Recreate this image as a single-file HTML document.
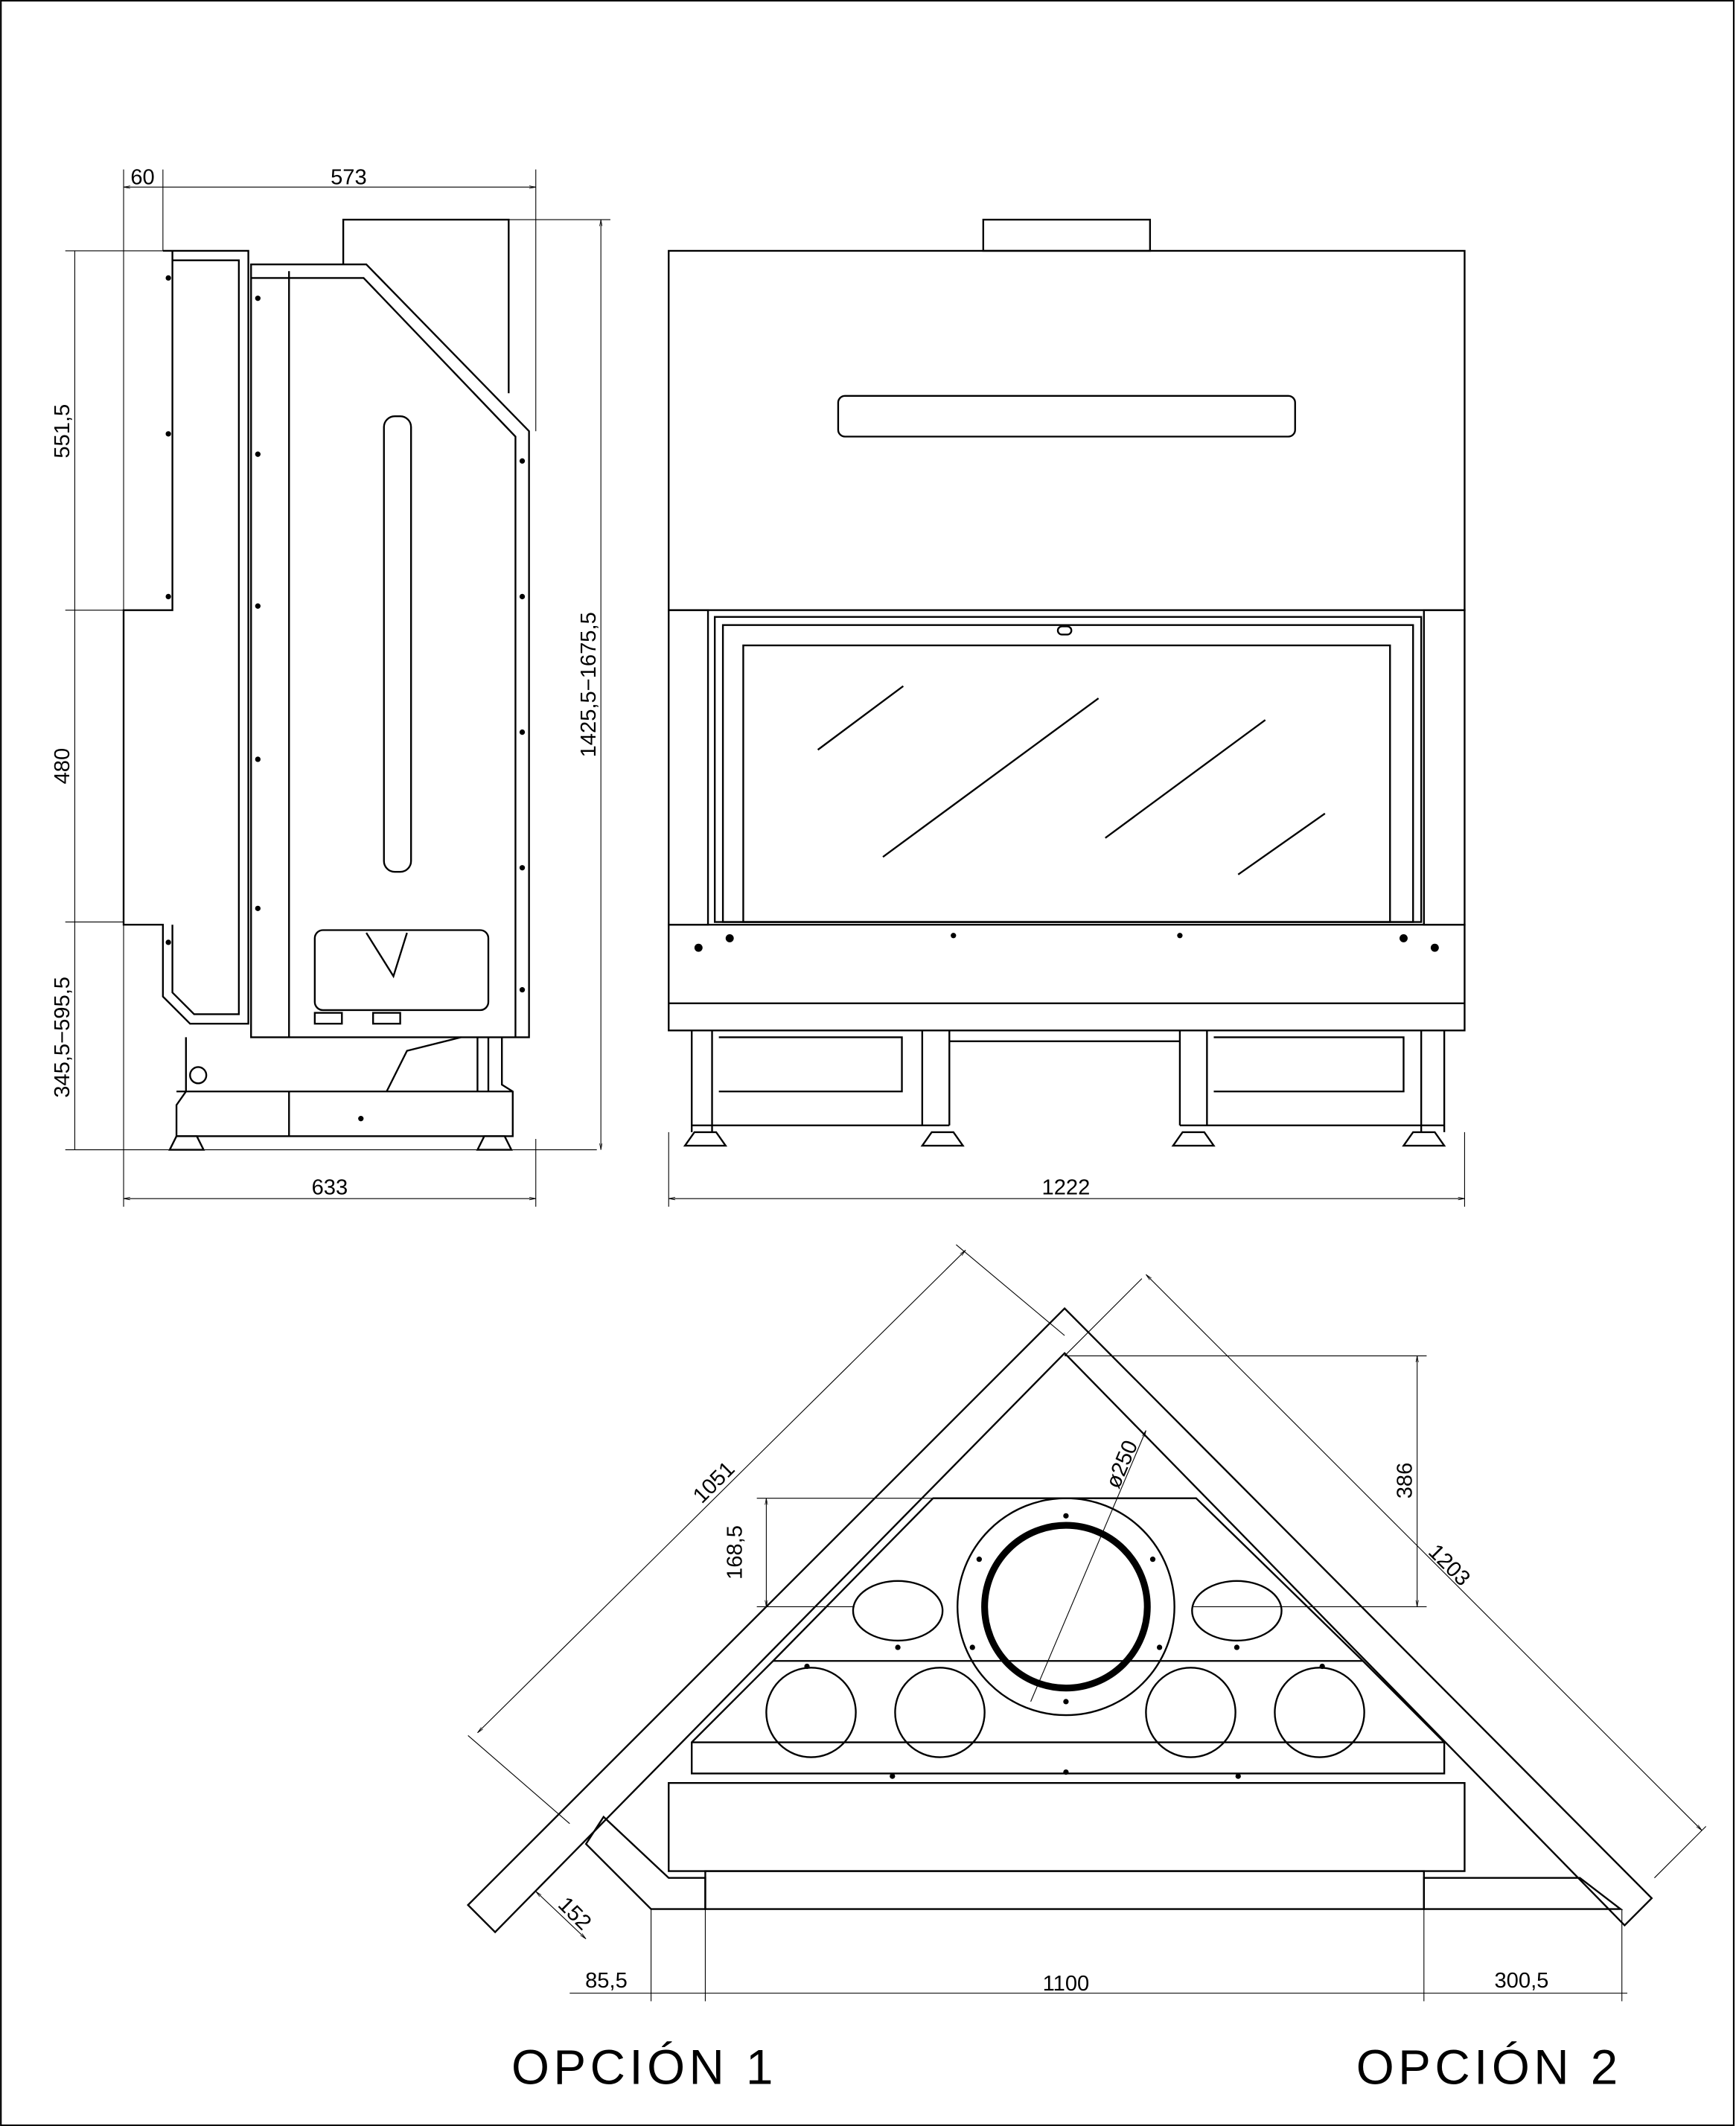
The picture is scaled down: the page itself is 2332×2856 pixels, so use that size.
<!DOCTYPE html>
<html><head><meta charset="utf-8"><style>
html,body{margin:0;padding:0;background:#fff}
svg{display:block}
text{font-family:"Liberation Sans",sans-serif;fill:#000}
</style></head><body>
<svg width="2332" height="2856" viewBox="0 0 1280 1568" xmlns="http://www.w3.org/2000/svg">
<defs>
<marker id="a" viewBox="0 0 10 10" refX="10" refY="5" markerWidth="8" markerHeight="8" orient="auto-start-reverse"><path d="M0,3 L10,5 L0,7" fill="none" stroke="#000" stroke-width="0.8"/></marker>
</defs>
<rect x="0.5" y="0.5" width="1278" height="1567" fill="none" stroke="#000" stroke-width="1.2"/>
<g fill="none" stroke="#000" stroke-width="0.6">
<!-- side view dims -->
<line x1="91" y1="138" x2="395" y2="138" marker-start="url(#a)" marker-end="url(#a)"/>
<line x1="91" y1="125" x2="91" y2="890"/><line x1="120" y1="125" x2="120" y2="185"/><line x1="395" y1="125" x2="395" y2="318"/>
<line x1="55" y1="185" x2="55" y2="848" />
<line x1="48" y1="185" x2="120" y2="185"/><line x1="48" y1="450" x2="91" y2="450"/><line x1="48" y1="680" x2="91" y2="680"/><line x1="48" y1="848" x2="440" y2="848"/>
<line x1="443" y1="162" x2="443" y2="848" marker-start="url(#a)" marker-end="url(#a)"/>
<line x1="375" y1="162" x2="450" y2="162"/>
<line x1="91" y1="884" x2="395" y2="884" marker-start="url(#a)" marker-end="url(#a)"/>
<line x1="395" y1="840" x2="395" y2="890"/>
<!-- front view dims -->
<line x1="493" y1="884" x2="1080" y2="884" marker-start="url(#a)" marker-end="url(#a)"/>
<line x1="493" y1="835" x2="493" y2="890"/><line x1="1080" y1="835" x2="1080" y2="890"/>
<!-- plan dims -->
<line x1="352" y1="1278" x2="712" y2="922" marker-start="url(#a)" marker-end="url(#a)"/>
<line x1="345" y1="1280" x2="420" y2="1345"/><line x1="705" y1="918" x2="785" y2="985"/>
<line x1="845" y1="940" x2="1255" y2="1350" marker-start="url(#a)" marker-end="url(#a)"/>
<line x1="842" y1="943" x2="785" y2="1000"/><line x1="1258" y1="1347" x2="1220" y2="1385"/>
<line x1="785" y1="1000" x2="1052" y2="1000"/><line x1="1045" y1="1000" x2="1045" y2="1185" marker-start="url(#a)" marker-end="url(#a)"/>
<line x1="880" y1="1185" x2="1052" y2="1185"/>
<line x1="558" y1="1105" x2="688" y2="1105"/><line x1="565" y1="1105" x2="565" y2="1185" marker-start="url(#a)" marker-end="url(#a)"/><line x1="558" y1="1185" x2="630" y2="1185"/>
<line x1="760" y1="1255" x2="845" y2="1055" marker-end="url(#a)"/>
<line x1="395" y1="1395" x2="432" y2="1430" marker-start="url(#a)" marker-end="url(#a)"/>
<line x1="420" y1="1470" x2="1200" y2="1470"/>
<line x1="480" y1="1408" x2="480" y2="1476"/><line x1="520" y1="1408" x2="520" y2="1476"/><line x1="1050" y1="1408" x2="1050" y2="1476"/><line x1="1196" y1="1408" x2="1196" y2="1476"/>
</g>
<g font-size="16" text-anchor="middle">
<text x="105" y="136">60</text><text x="257" y="136">573</text>
<text x="243" y="881">633</text><text x="786" y="881">1222</text>
<text transform="translate(51,318) rotate(-90)">551,5</text>
<text transform="translate(51,565) rotate(-90)">480</text>
<text transform="translate(51,765) rotate(-90)">345,5−595,5</text>
<text transform="translate(439,505) rotate(-90)">1425,5−1675,5</text>
<text transform="translate(530,1097) rotate(-45)">1051</text>
<text transform="translate(1065,1158) rotate(45)">1203</text>
<text transform="translate(1041,1092) rotate(-90)">386</text>
<text transform="translate(547,1145) rotate(-90)">168,5</text>
<text transform="translate(832,1082) rotate(-67)">ø250</text>
<text transform="translate(420,1415) rotate(45)">152</text>
<text x="447" y="1466">85,5</text><text x="786" y="1468">1100</text><text x="1122" y="1466">300,5</text>
</g>
<g font-size="36" text-anchor="middle" letter-spacing="3"><text x="475" y="1537">OPCIÓN 1</text><text x="1098" y="1537">OPCIÓN 2</text></g>
<g fill="none" stroke="#000" stroke-width="1.3">
<!-- side view -->
<path d="M120,185 L183,185 L183,755 L140,755 L120,735 L120,682 L91,682 L91,450 L127,450 L127,185"/>
<path d="M127,192 L176,192 L176,748 L143,748 L127,732 L127,682"/>
<path d="M185,195 L270,195 L390,318 L390,765 L185,765 Z"/>
<path d="M185,205 L268,205 L380,322 L380,765"/>
<line x1="213" y1="200" x2="213" y2="765"/>
<path d="M253,195 L253,162 L375,162 L375,290"/>
<rect x="283" y="307" width="20" height="336" rx="8"/>
<rect x="232" y="686" width="128" height="59" rx="6"/>
<path d="M270,688 L290,720 L300,688"/>
<rect x="232" y="747" width="20" height="8"/><rect x="275" y="747" width="20" height="8"/>
<path d="M137,765 L137,805 L130,815 L130,838 L378,838 L378,805 L370,800 L370,765"/>
<line x1="130" y1="805" x2="378" y2="805"/><line x1="213" y1="805" x2="213" y2="838"/>
<path d="M285,805 L300,775 L340,765"/>
<line x1="352" y1="765" x2="352" y2="805"/><line x1="360" y1="765" x2="360" y2="805"/>
<circle cx="146" cy="793" r="6"/>
<path d="M125,848 L150,848 L145,838 L130,838 Z M352,848 L377,848 L372,838 L357,838 Z"/>
<!-- front view -->
<rect x="493" y="185" width="587" height="265"/>
<rect x="725" y="162" width="123" height="23"/>
<rect x="618" y="292" width="337" height="30" rx="5"/>
<rect x="493" y="450" width="29" height="232"/><rect x="1050" y="450" width="30" height="232"/>
<rect x="527" y="455" width="521" height="225"/>
<rect x="548" y="476" width="477" height="204"/>
<rect x="533" y="461" width="509" height="219"/>
<rect x="780" y="462" width="10" height="6" rx="3"/>
<rect x="493" y="682" width="587" height="78"/>
<line x1="493" y1="740" x2="1080" y2="740"/>
<path d="M510,760 L510,835 M525,760 L525,835 M510,830 L700,830 M530,765 L665,765 L665,805 L530,805 M700,760 L700,830 M870,760 L870,830 M870,830 L1065,830 M1048,760 L1048,835 M1065,760 L1065,835 M895,765 L1035,765 L1035,805 L895,805 M700,768 L870,768 M680,760 L680,830 M890,760 L890,830"/>
<path d="M505,845 L535,845 L528,835 L512,835 Z M680,845 L710,845 L703,835 L687,835 Z M865,845 L895,845 L888,835 L872,835 Z M1035,845 L1065,845 L1058,835 L1042,835 Z"/>
<!-- plan view -->
<path d="M345,1405 L785,965 L1218,1400 L1198,1420 L785,998 L365,1425 Z"/>
<path d="M432,1360 L445,1340 L493,1385 L520,1385 L520,1408 L480,1408 Z"/>
<path d="M1050,1385 L1165,1385 L1195,1408 L1050,1408 Z"/>
<rect x="493" y="1315" width="587" height="65"/>
<rect x="520" y="1380" width="530" height="28"/>
<path d="M688,1105 L882,1105 L1005,1225 L1065,1285 L1065,1308 L510,1308 L510,1285 L570,1225 Z"/>
<line x1="570" y1="1225" x2="1005" y2="1225"/><line x1="510" y1="1285" x2="1065" y2="1285"/>
<circle cx="786" cy="1185" r="80"/>
<circle cx="786" cy="1185" r="60" stroke-width="5"/>
<ellipse cx="662" cy="1188" rx="33" ry="22"/><ellipse cx="912" cy="1188" rx="33" ry="22"/>
<circle cx="598" cy="1263" r="33"/><circle cx="693" cy="1263" r="33"/><circle cx="878" cy="1263" r="33"/><circle cx="973" cy="1263" r="33"/>
</g>
<g stroke="#000" stroke-width="1.3">
<line x1="603" y1="553" x2="666" y2="506"/><line x1="651" y1="632" x2="810" y2="515"/><line x1="815" y1="618" x2="933" y2="531"/><line x1="913" y1="645" x2="977" y2="600"/>
</g>
<g fill="#000">
<circle cx="124" cy="205" r="2"/><circle cx="124" cy="320" r="2"/><circle cx="124" cy="440" r="2"/><circle cx="124" cy="695" r="2"/>
<circle cx="190" cy="220" r="2"/><circle cx="190" cy="335" r="2"/><circle cx="190" cy="447" r="2"/><circle cx="190" cy="560" r="2"/><circle cx="190" cy="670" r="2"/>
<circle cx="385" cy="340" r="2"/><circle cx="385" cy="440" r="2"/><circle cx="385" cy="540" r="2"/><circle cx="385" cy="640" r="2"/><circle cx="385" cy="730" r="2"/>
<circle cx="266" cy="825" r="2"/><circle cx="703" cy="690" r="2"/><circle cx="870" cy="690" r="2"/>
<circle cx="515" cy="699" r="3"/><circle cx="538" cy="692" r="3"/><circle cx="1035" cy="692" r="3"/><circle cx="1058" cy="699" r="3"/>
<circle cx="786" cy="1118" r="2"/><circle cx="850" cy="1150" r="2"/><circle cx="722" cy="1150" r="2"/><circle cx="855" cy="1215" r="2"/><circle cx="717" cy="1215" r="2"/><circle cx="786" cy="1255" r="2"/>
<circle cx="595" cy="1229" r="2"/><circle cx="975" cy="1229" r="2"/><circle cx="658" cy="1310" r="2"/><circle cx="786" cy="1307" r="2"/><circle cx="913" cy="1310" r="2"/>
<circle cx="662" cy="1215" r="2"/><circle cx="912" cy="1215" r="2"/>
</g>
</svg>
</body></html>
